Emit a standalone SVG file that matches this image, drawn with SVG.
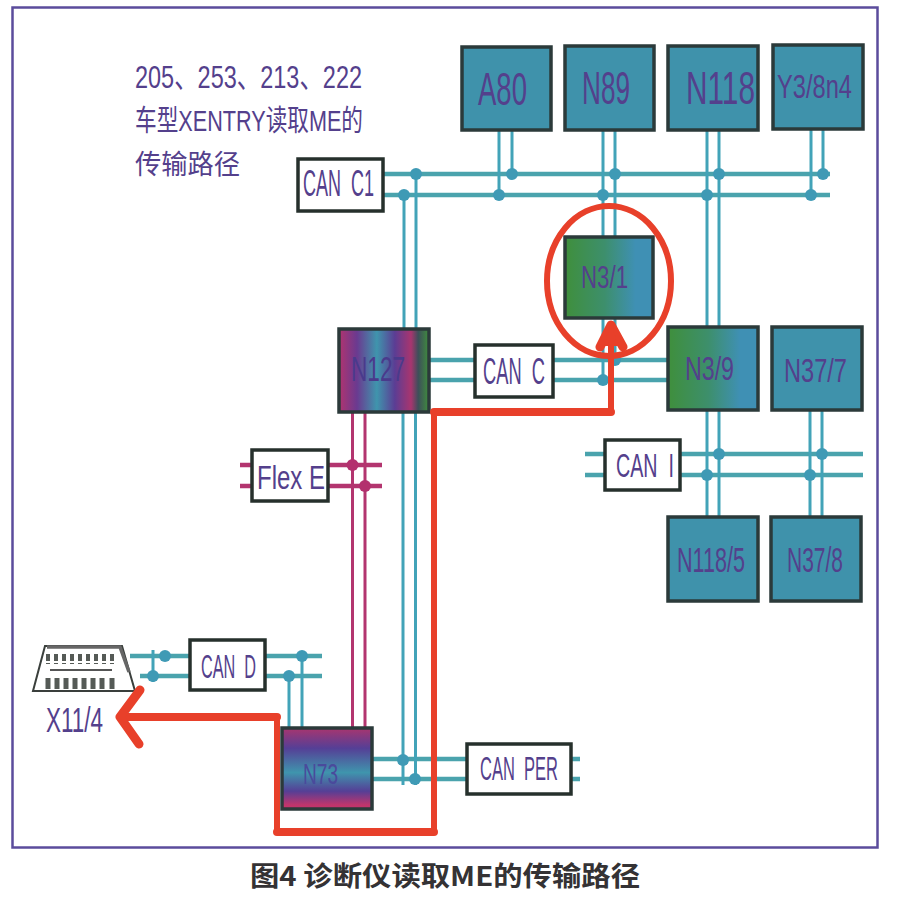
<svg xmlns="http://www.w3.org/2000/svg" width="897" height="900" viewBox="0 0 897 900">
<style>
.n{stroke:#2b3a3a;stroke-width:3.500}
.b{fill:#3f92ab}
.box{fill:#fff;stroke:#26302c;stroke-width:3.500}
text{font-family:"Liberation Sans","Noto Sans CJK SC",sans-serif;fill:#54408c;text-anchor:start}
.cap{font-family:"Noto Sans CJK SC","Liberation Sans",sans-serif;font-weight:700;font-size:27px;fill:#343234}
.can{fill:none;stroke:#42a3b8;stroke-width:3}
.bus{fill:none;stroke:#4aa3ad;stroke-width:4.500}
.flex{fill:none;stroke:#b3356f;stroke-width:3}
.fbus{fill:none;stroke:#b3356f;stroke-width:4.500}
.d{fill:#3f9ab5}
.fd{fill:#b3306e}
.red{fill:none;stroke:#e8402a;stroke-linejoin:round;stroke-linecap:round}
</style>
<defs>
<linearGradient id="g" x1="0" x2="1" y1="0" y2="0"><stop offset="0" stop-color="#3f8f3c"/><stop offset=".45" stop-color="#3d8f6c"/><stop offset=".8" stop-color="#3f90b4"/></linearGradient>
<linearGradient id="m1" x1="0" x2="1" y1="0" y2="0"><stop offset="0" stop-color="#b0346f"/><stop offset=".2" stop-color="#6a3a90"/><stop offset=".42" stop-color="#3f95ad"/><stop offset=".62" stop-color="#5b3d94"/><stop offset=".8" stop-color="#a8356f"/><stop offset=".88" stop-color="#3d4f5a"/><stop offset="1" stop-color="#3f8f3c"/></linearGradient>
<linearGradient id="m2" x1="0" x2="0" y1="0" y2="1"><stop offset="0" stop-color="#a8356f"/><stop offset=".25" stop-color="#553f96"/><stop offset=".55" stop-color="#3f95ad"/><stop offset=".78" stop-color="#553f96"/><stop offset=".95" stop-color="#c0356c"/></linearGradient>
</defs>
<rect width="897" height="900" fill="#fff"/>
<rect x="12.500" y="7.500" width="865" height="840" fill="none" stroke="#5b4c9c" stroke-width="2.500"/>
<g id="connectors">
<path class="bus" d="M383 174H830M383 195H830M429 360H668M429 380H668M585 454H863M585 475H863M372 759H467M372 779H467M571 759H580M571 779H580M130 656H190M140 676H190M265 656H322M265 676H322"/>
<path class="can" d="M499 130V195M512 130V174M603 130V237M615 130V237M707 130V327M719 130V327M811 130V195M823 130V174M404 195V329M416 174V329M403 412V785M415.500 412V785M603 318V380M615 318V360M707 410V517M719 410V517M810 410V517M822 410V517M289 676V728M302 656V728M153 650V682"/>
<path class="fbus" d="M240 465H382M240 486H382"/>
<path class="flex" d="M352.500 412V728M365 412V728"/>
<g class="d">
<circle cx="416" cy="174" r="6"/><circle cx="512" cy="174" r="6"/><circle cx="615" cy="174" r="6"/><circle cx="719" cy="174" r="6"/><circle cx="823" cy="174" r="6"/>
<circle cx="404" cy="195" r="6"/><circle cx="499" cy="195" r="6"/><circle cx="603" cy="195" r="6"/><circle cx="707" cy="195" r="6"/><circle cx="811" cy="195" r="6"/>
<circle cx="615" cy="360" r="6"/><circle cx="603" cy="380" r="6"/>
<circle cx="719" cy="454" r="6"/><circle cx="707" cy="475" r="6"/><circle cx="822" cy="454" r="6"/><circle cx="810" cy="475" r="6"/>
<circle cx="403" cy="760" r="6"/><circle cx="415" cy="779" r="6"/>
<circle cx="165" cy="656" r="6"/><circle cx="153" cy="676" r="6"/><circle cx="302" cy="656" r="6"/><circle cx="289" cy="676" r="6"/>
</g>
<g class="fd"><circle cx="352.500" cy="465" r="6"/><circle cx="365" cy="486" r="6"/></g>
</g>
<g id="A80"><rect class="n b" x="462" y="47" width="89" height="83"/><text x="478" y="105" font-size="46" textLength="49" lengthAdjust="spacingAndGlyphs">A80</text></g>
<g id="N89"><rect class="n b" x="565" y="46" width="89" height="84"/><text x="582" y="104" font-size="46" textLength="48" lengthAdjust="spacingAndGlyphs">N89</text></g>
<g id="N118"><rect class="n b" x="668" y="46" width="90" height="84"/><text transform="translate(686 104) scale(.647 1)" font-size="46">N118</text></g>
<g id="Y3-8n4"><rect class="n b" x="773" y="45" width="90" height="84"/><text x="777" y="98" font-size="33" textLength="75" lengthAdjust="spacingAndGlyphs">Y3/8n4</text></g>
<g id="N3-1"><rect class="n" fill="url(#g)" x="565" y="237" width="88" height="81"/><text x="581" y="288" font-size="32" textLength="47" lengthAdjust="spacingAndGlyphs">N3/1</text></g>
<g id="N3-9"><rect class="n" fill="url(#g)" x="668" y="327" width="90" height="83"/><text x="685" y="380" font-size="34" textLength="49" lengthAdjust="spacingAndGlyphs">N3/9</text></g>
<g id="N37-7"><rect class="n b" x="772" y="327" width="90" height="83"/><text x="784" y="382" font-size="34" textLength="63" lengthAdjust="spacingAndGlyphs">N37/7</text></g>
<g id="N118-5"><rect class="n b" x="668" y="517" width="90" height="84"/><text x="677" y="572" font-size="35" textLength="68" lengthAdjust="spacingAndGlyphs">N118/5</text></g>
<g id="N37-8"><rect class="n b" x="771" y="517" width="90" height="84"/><text x="787" y="572" font-size="35" textLength="56" lengthAdjust="spacingAndGlyphs">N37/8</text></g>
<g id="N127"><rect class="n" fill="url(#m1)" x="339" y="329" width="90" height="83"/><text x="351" y="381" font-size="35" textLength="54" lengthAdjust="spacingAndGlyphs" style="fill:#4a3a8c">N127</text></g>
<g id="N73"><rect class="n" fill="url(#m2)" x="282" y="728" width="90" height="81"/><text x="303" y="784" font-size="29" textLength="35" lengthAdjust="spacingAndGlyphs" style="fill:#4a4a9c">N73</text></g>
<g id="CAN-C1"><rect class="box" x="298" y="159" width="85" height="52"/><text x="303" y="196" font-size="36" textLength="71" lengthAdjust="spacingAndGlyphs" xml:space="preserve">CAN  C1</text></g>
<g id="CAN-C"><rect class="box" x="475" y="345" width="78" height="52"/><text x="483" y="384" font-size="36" textLength="62" lengthAdjust="spacingAndGlyphs" xml:space="preserve">CAN  C</text></g>
<g id="Flex-E"><rect class="box" x="252" y="450" width="76" height="51"/><text x="257" y="489" font-size="33" textLength="68" lengthAdjust="spacingAndGlyphs" xml:space="preserve">Flex E</text></g>
<g id="CAN-I"><rect class="box" x="605" y="440" width="75" height="50"/><text x="616" y="477" font-size="34" textLength="58" lengthAdjust="spacingAndGlyphs" xml:space="preserve">CAN  I</text></g>
<g id="CAN-D"><rect class="box" x="190" y="640" width="75" height="50"/><text x="201" y="678" font-size="33" textLength="55" lengthAdjust="spacingAndGlyphs" xml:space="preserve">CAN  D</text></g>
<g id="CAN-PER"><rect class="box" x="467" y="744" width="104" height="50"/><text x="480" y="780" font-size="33" textLength="78" lengthAdjust="spacingAndGlyphs" xml:space="preserve">CAN  PER</text></g>
<g id="X11-4">
<path d="M45 646H122L135 691H33Z" fill="#fff" stroke="#3a3f3c" stroke-width="2"/>
<path d="M47 647H120L129 672" fill="none" stroke="#666" stroke-width="3.500"/>
<path d="M48 654V664M56 654V664M64 654V664M72 654V664M80 654V664M88 654V664M96 654V664M104 654V664M112 654V664" stroke="#555a56" stroke-width="4" fill="none" stroke-dasharray="7 2"/>
<path d="M50 670H112" stroke="#555" stroke-width="2" fill="none"/>
<path d="M48 678V689M57 678V689M66 678V689M75 678V689M84 678V689M93 678V689M102 678V689M112 678V689" stroke="#555a56" stroke-width="5" fill="none"/>
<text x="46" y="732" font-size="35" textLength="57" lengthAdjust="spacingAndGlyphs">X11/4</text>
</g>
<g id="route">
<ellipse class="red" cx="609" cy="281" rx="62" ry="75" stroke-width="6"/>
<path class="red" stroke-width="6" d="M611 335V412M434 412V832M277 832V717"/>
<path class="red" stroke-width="8" d="M611 412H434M434 832H277M277 717H124"/>
<path class="red" stroke-width="9" d="M140 690L120 717L139 744M600 347L611 325L623 347"/>
<path d="M611 322L604 346H618Z" fill="#e8402a"/>
</g>
<g id="title">
<text x="135" y="88" font-size="31" textLength="227" lengthAdjust="spacingAndGlyphs">205、253、213、222</text>
<text x="135" y="131" font-size="29" textLength="228" lengthAdjust="spacingAndGlyphs">车型XENTRY读取ME的</text>
<text x="135" y="174" font-size="27" textLength="105" lengthAdjust="spacingAndGlyphs">传输路径</text>
</g>
<text class="cap" x="250" y="886" textLength="390" lengthAdjust="spacingAndGlyphs">图4 诊断仪读取ME的传输路径</text>
</svg>
